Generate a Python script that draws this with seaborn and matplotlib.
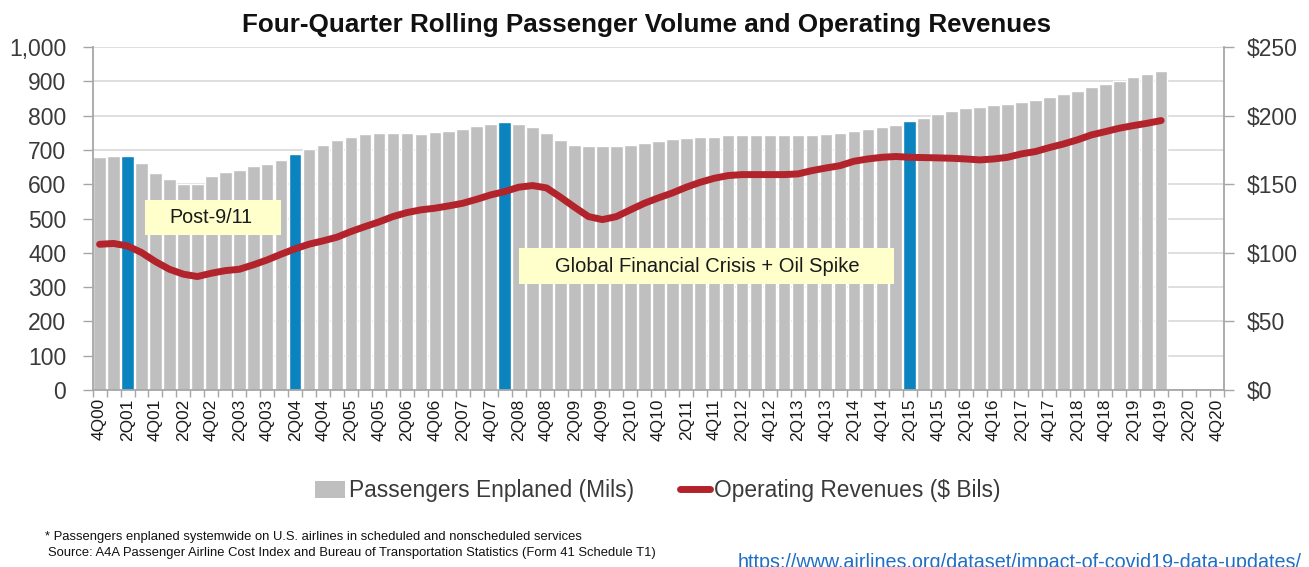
import numpy as np
import pandas as pd
import matplotlib
matplotlib.use("Agg")
import matplotlib.pyplot as plt
from matplotlib.patches import Patch, Rectangle
from matplotlib.lines import Line2D
import seaborn as sns

# ---------------- data ----------------
quarters = []
quarters.append("4Q00")
for yr in range(1, 21):
    for q in range(1, 5):
        quarters.append(f"{q}Q{yr:02d}")

passengers = [
    680, 682, 682, 663, 634, 616, 602, 602, 624, 636,
    641, 653, 659, 670, 689, 702, 715, 728, 739, 746,
    748, 749, 749, 747, 752, 755, 760, 770, 776, 781,
    776, 766, 749, 729, 714, 710, 710, 711, 715, 719,
    727, 731, 735, 738, 738, 742, 743, 743, 743, 743,
    744, 744, 747, 750, 755, 761, 768, 774, 784, 792,
    804, 814, 821, 826, 830, 834, 840, 845, 855, 862,
    873, 884, 892, 901, 912, 922, 931,
]

revenues = [
    106.2, 106.8, 105.0, 100.2, 93.6, 88.0, 84.4, 82.7, 85.1, 87.0,
    88.0, 91.2, 94.8, 99.0, 102.9, 106.3, 108.7, 111.4, 115.5, 119.1,
    122.5, 126.4, 129.3, 131.3, 132.5, 134.2, 136.1, 139.0, 142.2, 144.6,
    147.8, 149.0, 147.3, 140.5, 133.3, 126.4, 124.2, 126.4, 131.3, 136.1,
    140.0, 143.6, 147.8, 151.4, 154.3, 156.3, 157.0, 157.0, 157.0, 157.0,
    157.5, 159.9, 161.8, 163.5, 166.7, 168.4, 169.6, 170.2, 169.6, 169.4,
    169.2, 168.9, 168.4, 167.7, 168.4, 169.6, 172.1, 173.8, 176.7, 179.3,
    182.3, 185.9, 188.3, 190.8, 192.7, 194.4, 196.4,
]

highlight_quarters = ["2Q01", "2Q04", "1Q08", "2Q15"]

title = "Four-Quarter Rolling Passenger Volume and Operating Revenues"
left_ticks = [0, 100, 200, 300, 400, 500, 600, 700, 800, 900, 1000]
right_ticks = [0, 50, 100, 150, 200, 250]

# ---------------- style ----------------
GRAY = "#BFBFBF"
BLUE = "#0A83BF"
RED = "#B3232B"
SPINE = "#A6A6A6"
GRID = "#D9D9D9"
BOX = "#FFFFCC"

sns.set_theme(style="white")
plt.rcParams["font.family"] = ["Liberation Sans", "DejaVu Sans"]

W, H = 1309, 567
fig = plt.figure(figsize=(W / 100, H / 100), dpi=100)
fig.patch.set_facecolor("white")
ax = fig.add_axes([92.6 / W, 1 - 390 / H, (1224 - 92.6) / W, (390 - 47) / H])

pax_full = passengers + [np.nan] * (len(quarters) - len(passengers))
df = pd.DataFrame({
    "quarter": quarters,
    "pax": pax_full,
    "kind": ["highlight" if q in highlight_quarters else "normal" for q in quarters],
})

sns.barplot(data=df, x="quarter", y="pax", hue="kind", order=quarters,
            hue_order=["normal", "highlight"],
            palette={"normal": GRAY, "highlight": BLUE},
            dodge=False, width=0.9, saturation=1, errorbar=None,
            legend=False, ax=ax, zorder=2)

ax2 = ax.twinx()
sns.lineplot(x=np.arange(len(revenues)), y=revenues, ax=ax2, color=RED,
             linewidth=5, solid_capstyle="round", solid_joinstyle="round",
             zorder=5)

# axes limits
ax.set_xlim(-0.5, len(quarters) - 0.5)
ax.set_ylim(0, 1000)
ax2.set_ylim(0, 250)
ax2.set_xlim(-0.5, len(quarters) - 0.5)

# grid
ax.set_axisbelow(True)
ax.yaxis.grid(True, color=GRID, linewidth=1.2)
ax.xaxis.grid(False)

# x ticks
ax.set_xticks(range(0, len(quarters), 2))
ax.set_xticklabels(quarters[::2], rotation=90, fontsize=12.4, color="#1a1a1a")
ax.set_xticks(np.arange(-0.5, len(quarters), 1), minor=True)
ax.tick_params(axis="x", which="major", length=0, pad=6)
ax.tick_params(axis="x", which="minor", length=5, width=1, color=SPINE,
               direction="out", bottom=True)
ax.set_xlabel("")
ax.set_ylabel("")

# left y ticks
ax.set_yticks(left_ticks)
ax.set_yticklabels([f"{v:,}" for v in left_ticks])
ax.tick_params(axis="y", which="major", length=7, width=1, color=SPINE,
               direction="out", left=True, labelsize=16.5,
               labelcolor="#3A3A3A", pad=12)

# right y ticks
ax2.set_yticks(right_ticks)
ax2.set_yticklabels([f"${v}" for v in right_ticks])
ax2.tick_params(axis="y", which="major", length=7, width=1, color=SPINE,
                direction="out", right=True, labelsize=16.5,
                labelcolor="#3A3A3A", pad=9)
ax2.set_ylabel("")

for s in ["top", "right"]:
    ax.spines[s].set_visible(False)
for s in ["left", "bottom"]:
    ax.spines[s].set_color(SPINE)
    ax.spines[s].set_linewidth(1.3)
for s in ["top", "left", "bottom"]:
    ax2.spines[s].set_visible(False)
ax2.spines["right"].set_color(SPINE)
ax2.spines["right"].set_linewidth(1.3)
ax2.grid(False)

# annotation boxes
ax.add_patch(Rectangle((3.25, 451), 12.99 - 3.25, 554 - 451,
                       facecolor=BOX, edgecolor="none", zorder=4))
ax.text(8.0, 503, "Post-9/11", ha="center", va="center", fontsize=14.2,
        color="#1a1a1a", zorder=6)
ax.add_patch(Rectangle((30.05, 310), 56.9 - 30.05, 414.6 - 310,
                       facecolor=BOX, edgecolor="none", zorder=4))
ax.text(43.5, 361, "Global Financial Crisis + Oil Spike", ha="center",
        va="center", fontsize=14.5, color="#1a1a1a", zorder=6)

# title
fig.text(647 / W, 1 - 25 / H, title, ha="center", va="center",
         fontsize=18.7, fontweight="bold", color="#111111")

# legend
handles = [Patch(facecolor=GRAY, edgecolor="none"),
           Line2D([0], [0], color=RED, linewidth=5, solid_capstyle="round")]
labels = ["Passengers Enplaned (Mils)", "Operating Revenues ($ Bils)"]
fig.legend(handles, labels, loc="center", bbox_to_anchor=(658 / W, 1 - 491 / H),
           ncol=2, frameon=False, fontsize=16.4, handlelength=1.3,
           handleheight=0.8, handletextpad=0.2, columnspacing=2.0,
           labelcolor="#3A3A3A")

# footnotes
fig.text(45 / W, 1 - 537 / H,
         "* Passengers enplaned systemwide on U.S. airlines in scheduled and nonscheduled services",
         ha="left", va="center", fontsize=9.35, color="#111111")
fig.text(48 / W, 1 - 553 / H,
         "Source: A4A Passenger Airline Cost Index and Bureau of Transportation Statistics (Form 41 Schedule T1)",
         ha="left", va="center", fontsize=9.4, color="#111111")
fig.text(738 / W, 1 - 553 / H,
         "https://www.airlines.org/dataset/impact-of-covid19-data-updates/",
         ha="left", va="top", fontsize=14.2, color="#1F6FC5")

fig.savefig("out.png", dpi=100, facecolor="white")
